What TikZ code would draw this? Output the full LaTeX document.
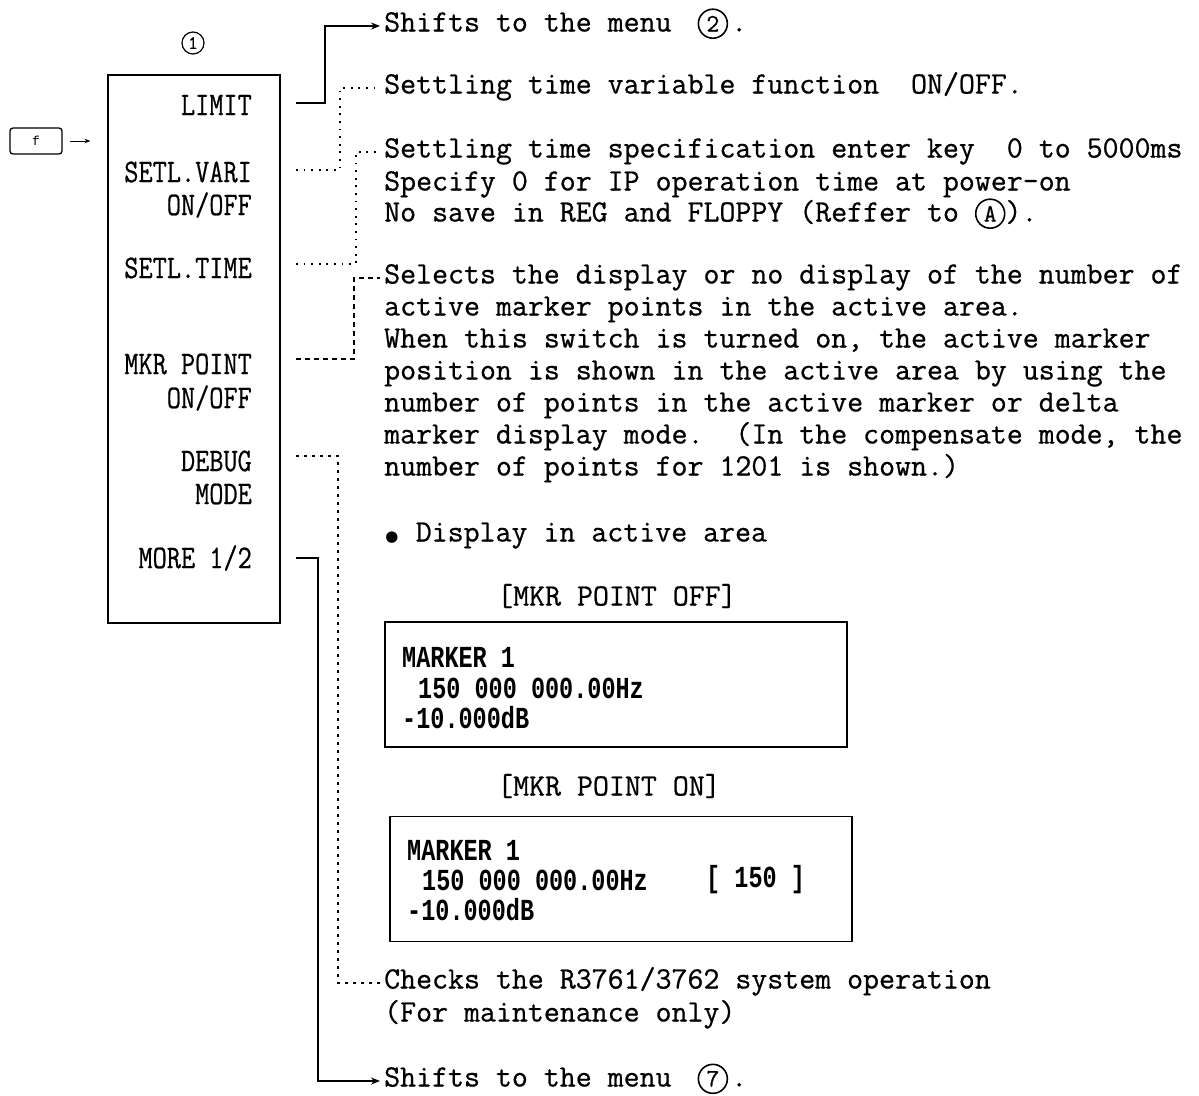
\documentclass[tikz,border=0pt]{standalone}
\usepackage{graphicx}
\usepackage{fontspec}
\usepackage{tikz}
\usetikzlibrary{arrows.meta, calc}
\newfontfamily\bodyfont{Latin Modern Mono}[FakeBold=0.7]
\newfontfamily\plainmono{Liberation Mono}
\newfontfamily\symfont{DejaVu Sans}
% menu keys and screen lines are set tall and narrow
\newcommand{\menutxt}[1]{\scalebox{1}[1.2]{\bodyfont\fontsize{27.5}{27.5}\selectfont #1}}
\newcommand{\scrtxt}[1]{\scalebox{1}[1.3]{\plainmono\bfseries\fontsize{23.5}{23.5}\selectfont #1}}
% circled mark inside a line of text
\newcommand{\encirc}[1]{\tikz[baseline=(ec.base)] \node[draw, circle, line width=1.6pt, inner sep=0pt, minimum size=29pt, font=\bodyfont\fontsize{25}{25}\selectfont] (ec) {#1};}

\begin{document}
\begin{tikzpicture}[x=1pt, y=-1pt, font=\bodyfont\fontsize{31}{32}\selectfont]
  % Define the styles
  \tikzset{body/.style={anchor=west, inner ysep=0pt, inner xsep=4pt, text height=17pt, text depth=6pt}}
  \tikzset{item/.style={anchor=east, inner sep=0pt}}
  \tikzset{scr/.style={anchor=west, inner sep=0pt}}
  \tikzset{screenbox/.style={draw, line width=1.8pt, minimum width=462pt, minimum height=125pt, inner sep=0pt}}
  \tikzset{solidlink/.style={line width=2.2pt, -{Stealth[length=9pt, width=7pt]}}}
  \tikzset{dotlink/.style={line width=1.5pt, dash pattern=on 1.8pt off 5.8pt}}
  \tikzset{dashlink/.style={line width=1.3pt, dash pattern=on 5pt off 4pt}}
  \useasboundingbox (0,0) rectangle (1199,1095);

  % The soft key menu
  \node[draw, line width=1.1pt, minimum width=172pt, minimum height=548pt, inner sep=0pt] (menu) at (194,349) {};
  \node[draw, circle, line width=1.2pt, minimum size=22pt, inner sep=0pt, font=\bodyfont\fontsize{19}{19}\selectfont] (num1) at (193,43) {1};
  \node[item] (limit) at (252,105) {\menutxt{LIMIT}};
  \node[item] (setlvari) at (252,172) {\menutxt{SETL.VARI}};
  \node[item] (setlvari2) at (252,205) {\menutxt{ON/OFF}};
  \node[item] (setltime) at (252,268) {\menutxt{SETL.TIME}};
  \node[item] (mkrpoint) at (252,364) {\menutxt{MKR POINT}};
  \node[item] (mkrpoint2) at (252,398) {\menutxt{ON/OFF}};
  \node[item] (debug) at (252,461) {\menutxt{DEBUG}};
  \node[item] (debug2) at (252,494) {\menutxt{MODE}};
  \node[item] (more) at (252,558) {\menutxt{MORE 1/2}};

  % The f key
  \node[draw, rounded corners=3pt, line width=1.3pt, minimum width=52pt, minimum height=26pt, inner sep=0pt] (fkey) at (36,141) {\plainmono\fontsize{13}{13}\selectfont f};
  \draw[line width=1pt, -{Stealth[length=6pt]}] ([xshift=7pt]fkey.east) -- ([xshift=-17pt]fkey.east -| menu.west);

  % Explanations
  \node[body] (shift2) at (380,26) {Shifts to the menu\hspace{26pt}\encirc{2}\hspace{3pt}.};
  \node[body] (settle) at (380,88) {Settling time variable function~~ON/OFF.};
  \node[body] (spec1) at (380,152) {Settling time specification enter key~~0 to 5000ms};
  \node[body] (spec2) at (380,185) {Specify 0 for IP operation time at power-on};
  \node[body] (spec3) at (380,216) {No save in REG and FLOPPY (Reffer to \encirc{A}).};
  \foreach \t [count=\i from 0] in {
      {Selects the display or no display of the number of},
      {active marker points in the active area.},
      {When this switch is turned on, the active marker},
      {position is shown in the active area by using the},
      {number of points in the active marker or delta},
      {marker display mode.~~(In the compensate mode, the},
      {number of points for 1201 is shown.)}}
    \node[body] (sel\i) at (380,278+32*\i) {\t};
  \node[body] (disp) at (380,536) {\makebox[15.6pt]{\symfont\fontsize{15}{15}\selectfont ●}~Display in active area};

  % Screen with MKR POINT OFF
  \node[body] (offtitle) at (493,600) {[MKR POINT OFF]};
  \node[screenbox] (offbox) at (616,684.5) {};
  \node[scr] (off1) at (402,657) {\scrtxt{MARKER 1}};
  \node[scr] (off2) at (418,688) {\scrtxt{150 000 000.00Hz}};
  \node[scr] (off3) at (402,718) {\scrtxt{-10.000dB}};

  % Screen with MKR POINT ON
  \node[body] (ontitle) at (493,790) {[MKR POINT ON]};
  \node[screenbox] (onbox) at (621,879) {};
  \node[scr] (on1) at (407,850) {\scrtxt{MARKER 1}};
  \node[scr] (on2) at (422,880) {\scrtxt{150 000 000.00Hz}};
  \node[scr] (on4) at (706,880) {\scrtxt{[ 150 ]}};
  \node[scr] (on3) at (407,910) {\scrtxt{-10.000dB}};

  \node[body] (check1) at (380,983) {Checks the R3761/3762 system operation};
  \node[body] (check2) at (380,1016) {(For maintenance only)};
  \node[body] (shift7) at (380,1081) {Shifts to the menu\hspace{26pt}\encirc{7}\hspace{3pt}.};

  % Connectors
  \draw[solidlink] ([xshift=44pt, yshift=2pt]limit.east) -- ++(29,0) |- (shift2.west);
  \draw[dotlink] ([xshift=44pt, yshift=2pt]setlvari.east) -- ++(44,0) |- (settle.west);
  \draw[dotlink] ([xshift=44pt, yshift=4pt]setltime.east) -- ++(60,0) |- (spec1.west);
  \draw[dashlink] ([xshift=44pt, yshift=5pt]mkrpoint.east) -- ++(58,0) |- (sel0.west);
  \draw[dashlink, dash pattern=on 3pt off 5pt] ([xshift=44pt, yshift=5pt]debug.east) -- ++(42,0) |- (check1.west);
  \draw[solidlink] ([xshift=44pt]more.east) -- ++(22,0) |- (shift7.west);
\end{tikzpicture}
\end{document}
